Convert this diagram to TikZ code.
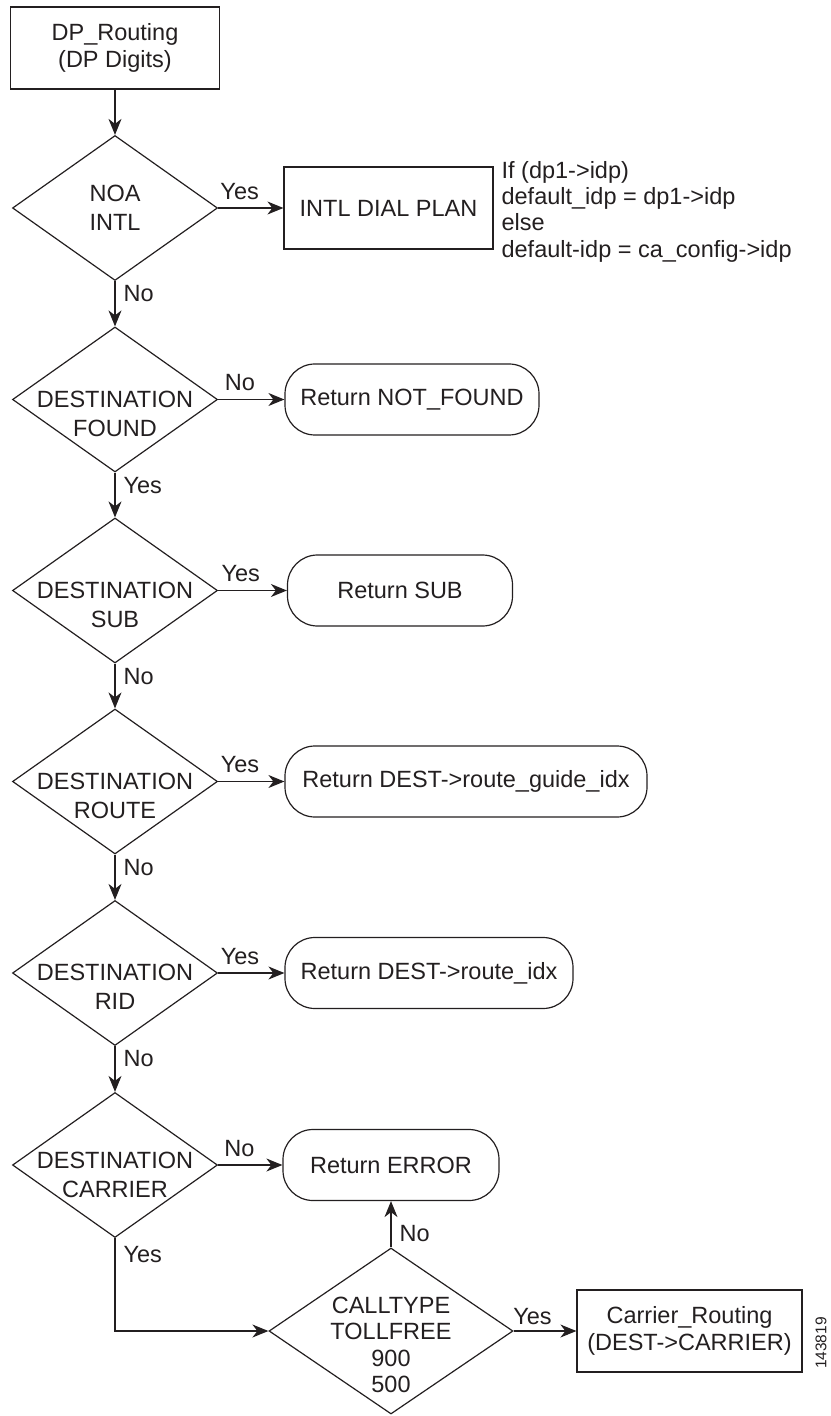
\documentclass[tikz,border=0pt]{standalone}
\usepackage{fontspec}
\setmainfont{Liberation Sans}
\usetikzlibrary{shapes.geometric,arrows.meta}

\definecolor{inkline}{RGB}{35,31,32}
\newcommand{\flowfont}{\fontsize{11.75}{13.5}\selectfont}

\tikzset{proc/.style   = {draw, rectangle, minimum width=#1, minimum height=41pt,
                          inner sep=0pt, align=center},
         proc/.default = 104.5pt,
         retbox/.style = {draw, rectangle, rounded corners=15pt, minimum width=#1,
                          minimum height=35.5pt, inner sep=0pt},
         decision/.style = {draw, diamond, minimum width=102.5pt, minimum height=72.5pt,
                            inner sep=0pt},
         dtext/.style  = {align=center, font=\fontsize{11.75}{14.5}\selectfont},
         hlab/.style   = {anchor=south, inner sep=0pt, yshift=4pt},
         vlab/.style   = {anchor=north west, pos=0, inner xsep=4pt, inner ysep=2pt},
         arr/.style    = {-{Stealth[length=8pt,width=6.5pt,inset=2.5pt]}}
        }

\begin{document}
\begin{tikzpicture}[x=0.5pt,y=-0.5pt,line width=0.6pt,draw=inkline,text=inkline,
                    font=\flowfont]
  \useasboundingbox (0,0) rectangle (830,1416);
  % main column
  \node[proc] (dp) at (115,48) {DP\_Routing\\(DP Digits)};
  \node[decision, label={[dtext]center:NOA\\INTL}] (noa) at (115,208) {};
  \node[proc] (intl) at (388.5,208) {INTL DIAL PLAN};
  \node[anchor=west, inner sep=0pt, align=left, font=\fontsize{11.75}{13.15}\selectfont]
       (note) at (501,211.5)
       {If (dp1->idp)\\default\_idp = dp1->idp\\else\\default-idp = ca\_config->idp};
  \node[decision, label={[dtext, yshift=-7pt]center:DESTINATION\\FOUND}] (found) at (115,399.5) {};
  \node[retbox=127pt] (nf) at (412,399.5) {Return NOT\_FOUND};
  \node[decision, label={[dtext, yshift=-7pt]center:DESTINATION\\SUB}] (sub) at (115,590.5) {};
  \node[retbox=112.5pt] (rsub) at (400,590.5) {Return SUB};
  \node[decision, label={[dtext, yshift=-7pt]center:DESTINATION\\ROUTE}] (route) at (115,781.5) {};
  \node[retbox=181pt] (rroute) at (466,781.5) {Return DEST->route\_guide\_idx};
  \node[decision, label={[dtext, yshift=-7pt]center:DESTINATION\\RID}] (rid) at (115,973) {};
  \node[retbox=144pt] (rrid) at (429,973) {Return DEST->route\_idx};
  \node[decision, label={[dtext, yshift=-5pt]center:DESTINATION\\CARRIER}] (carrier) at (115,1165) {};
  \node[retbox=108pt] (err) at (391,1165) {Return ERROR};
  \node[decision, minimum width=122pt, minimum height=83pt,
        label={[dtext, font=\fontsize{11.75}{13.25}\selectfont, yshift=-7pt]center:CALLTYPE\\TOLLFREE\\900\\500}]
       (calltype) at (391,1331) {};
  \node[proc=112.5pt] (croute) at (689.5,1331) {Carrier\_Routing\\(DEST->CARRIER)};
  \node[rotate=90, inner sep=0pt, font=\fontsize{7.75}{9}\selectfont] (figno) at (821,1343) {143819};

  % connectors
  \draw[arr] (dp) -- (noa);
  \draw[arr] (noa) -- node[hlab, pos=.33] {Yes} (intl);
  \draw[arr] (noa) -- node[vlab] {No} (found);
  \draw[arr] (found) -- node[hlab, pos=.33] {No} (nf);
  \draw[arr] (found) -- node[vlab] {Yes} (sub);
  \draw[arr] (sub) -- node[hlab, pos=.33] {Yes} (rsub);
  \draw[arr] (sub) -- node[vlab] {No} (route);
  \draw[arr] (route) -- node[hlab, pos=.33] {Yes} (rroute);
  \draw[arr] (route) -- node[vlab] {No} (rid);
  \draw[arr] (rid) -- node[hlab, pos=.33] {Yes} (rrid);
  \draw[arr] (rid) -- node[vlab] {No} (carrier);
  \draw[arr] (carrier) -- node[hlab, pos=.33] {No} (err);
  \draw[arr] (carrier) |- node[vlab, yshift=-2pt] {Yes} (calltype);
  \draw[arr] (calltype) -- node[vlab, anchor=south west, inner ysep=2.5pt] {No} (err);
  \draw[arr] (calltype) -- node[hlab, pos=.3, yshift=-1pt] {Yes} (croute);
\end{tikzpicture}
\end{document}
